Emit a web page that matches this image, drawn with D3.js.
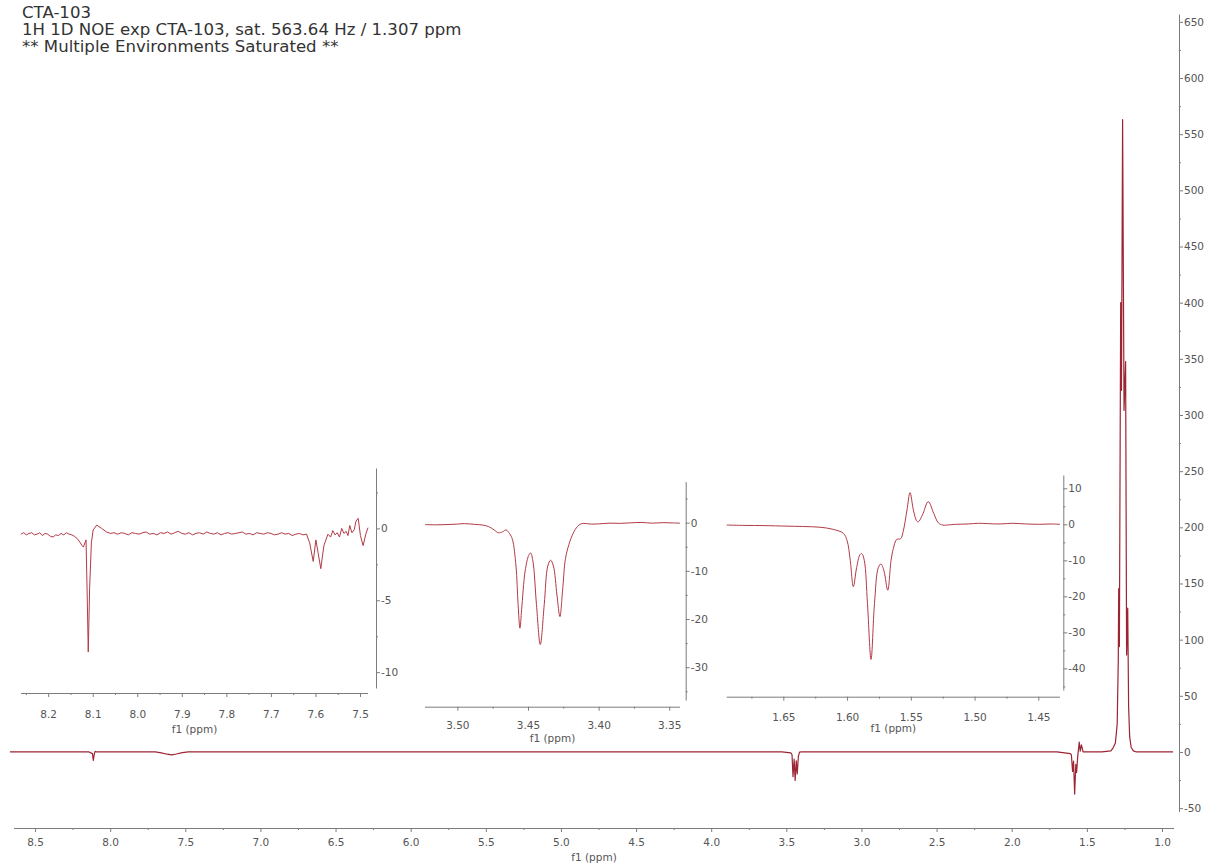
<!DOCTYPE html>
<html>
<head>
<meta charset="utf-8">
<script src="https://cdn.jsdelivr.net/npm/d3@7/dist/d3.min.js"></script>
<style>
  html, body { margin: 0; padding: 0; background: #fff; }
  svg { display: block; }
  text { font-family: "DejaVu Sans", Verdana, sans-serif; }
</style>
</head>
<body>
<svg id="chart" width="1215" height="865"></svg>
<script>
// ---- Header text ----
const titleLines = [
  "CTA-103",
  "1H 1D NOE exp CTA-103, sat. 563.64 Hz / 1.307 ppm",
  "** Multiple Environments Saturated **"
];

// ---- Full spectrum (ppm, intensity) ----
const mainPpm = [8.667, 8.14, 8.118, 8.112, 8.106, 8.10, 8.09,
  7.70, 7.66, 7.62, 7.59, 7.56, 7.52, 7.48,
  3.53, 3.47, 3.462, 3.4557, 3.4481, 3.4413, 3.434, 3.4274, 3.42, 3.412, 3.40,
  1.70, 1.61, 1.603, 1.5951, 1.5885, 1.5812, 1.5734, 1.5681, 1.561, 1.5506, 1.5441, 1.5363, 1.525,
  1.40, 1.34, 1.326, 1.31, 1.298, 1.291, 1.288, 1.2835, 1.2748, 1.2695, 1.262, 1.2525, 1.242,
  1.2355, 1.228, 1.222, 1.215, 1.205, 1.19, 1.17, 0.926];
const mainVal = [0, 0, -1.5, -7.5, -2, 0.5, 0,
  0, -0.8, -2, -2.6, -1.8, -0.6, 0,
  0, -0.8, -2.5, -22, -6.3, -25.3, -7.8, -19.5, -4, -0.2, 0,
  0, -1.4, -2.5, -17.3, -8.1, -37.5, -11, -18.3, -4.2, 8.8, 0.7, 6.3, 0,
  0, 1, 3.5, 8, 25, 80, 145.5, 93.8, 400, 322, 563, 304, 347.5,
  86.4, 128, 40, 13.6, 4, 1, 0, 0];
const mainXTicks = [8.5, 8.0, 7.5, 7.0, 6.5, 6.0, 5.5, 5.0, 4.5, 4.0, 3.5, 3.0, 2.5, 2.0, 1.5, 1.0];
const mainXMinor = [8.25, 7.75, 7.25, 6.75, 6.25, 5.75, 5.25, 4.75, 4.25, 3.75, 3.25, 2.75, 2.25, 1.75, 1.25];
const mainYTicks = [-50, 0, 50, 100, 150, 200, 250, 300, 350, 400, 450, 500, 550, 600, 650];
const mainYMinor = [-25, 25, 75, 125, 175, 225, 275, 325, 375, 425, 475, 525, 575, 625];

// ---- Inset 1: aromatic region 8.26 - 7.48 ppm ----
const in1Ppm = [8.261, 8.255, 8.249, 8.243, 8.237, 8.231, 8.225, 8.219, 8.213, 8.207, 8.201, 8.195,
  8.189, 8.183, 8.177, 8.171, 8.165, 8.159, 8.153, 8.147, 8.141, 8.135, 8.129, 8.124, 8.121, 8.115,
  8.1125, 8.110, 8.107, 8.103, 8.099, 8.091, 8.080, 8.069, 8.060, 8.052, 8.044, 8.036, 8.028, 8.020,
  8.012, 8.004, 7.996, 7.988, 7.980, 7.972, 7.964, 7.956, 7.948, 7.940, 7.932, 7.924, 7.916, 7.908,
  7.900, 7.892, 7.884, 7.876, 7.868, 7.860, 7.852, 7.844, 7.836, 7.828, 7.820, 7.812, 7.804, 7.796,
  7.788, 7.780, 7.772, 7.764, 7.756, 7.748, 7.740, 7.732, 7.724, 7.716, 7.708, 7.700, 7.692, 7.684,
  7.676, 7.668, 7.660, 7.652, 7.644, 7.636, 7.628, 7.620, 7.613, 7.605, 7.599, 7.594, 7.588, 7.581,
  7.572, 7.566, 7.561, 7.556, 7.551, 7.546, 7.541, 7.536, 7.531, 7.527, 7.523, 7.518, 7.513, 7.509,
  7.504, 7.499, 7.493, 7.487, 7.482];
const in1Val = [-0.4, -0.3, -0.45, -0.35, -0.3, -0.45, -0.4, -0.3, -0.5, -0.35, -0.4, -0.55,
  -0.6, -0.45, -0.5, -0.35, -0.45, -0.3, -0.4, -0.45, -0.55, -0.7, -0.95, -1.2, -1.3, -0.8,
  -4.5, -8.6, -4.2, -1.0, -0.12, 0.23, 0.0, -0.25, -0.35, -0.3, -0.4, -0.3, -0.35, -0.45,
  -0.3, -0.35, -0.4, -0.3, -0.25, -0.4, -0.35, -0.45, -0.3, -0.35, -0.25, -0.4, -0.3, -0.2,
  -0.35, -0.4, -0.3, -0.45, -0.35, -0.3, -0.4, -0.25, -0.35, -0.4, -0.3, -0.45, -0.35, -0.3,
  -0.4, -0.35, -0.3, -0.25, -0.4, -0.35, -0.45, -0.3, -0.35, -0.4, -0.3, -0.35, -0.45, -0.4,
  -0.3, -0.4, -0.35, -0.5, -0.4, -0.35, -0.45, -0.4, -1.0, -2.3, -0.8, -1.7, -2.8, -1.2,
  -0.4, -0.6, -0.15, -0.45, -0.3, -0.6, 0.0, -0.35, -0.2, -0.5, 0.2, -0.3, -0.1, 0.5,
  0.7, -0.5, -1.2, -0.4, 0.05];
const in1XTicks = [8.2, 8.1, 8.0, 7.9, 7.8, 7.7, 7.6, 7.5];
const in1XMinor = [8.25, 8.15, 8.05, 7.95, 7.85, 7.75, 7.65, 7.55];
const in1YTicks = [0, -5, -10];
const in1YMinor = [2.5, -2.5, -7.5];

// ---- Inset 2: multiplet near 3.44 ppm ----
const in2Ppm = [3.5229, 3.515, 3.508, 3.500, 3.495, 3.488, 3.482, 3.478, 3.474, 3.471, 3.468, 3.4655,
  3.463, 3.461, 3.4585, 3.457, 3.4557, 3.4545, 3.452, 3.4495, 3.4481, 3.4465, 3.444, 3.4413, 3.4385,
  3.436, 3.434, 3.432, 3.4295, 3.4274, 3.4255, 3.4235, 3.421, 3.418, 3.415, 3.412, 3.405, 3.400,
  3.392, 3.385, 3.378, 3.370, 3.362, 3.355, 3.348, 3.3424];
const in2Val = [-0.4, -0.45, -0.4, -0.3, -0.2, -0.35, -0.5, -0.8, -1.5, -2.1, -1.9, -1.5,
  -2.3, -3.5, -9, -17, -21.9, -18, -10, -6.8, -6.3, -8, -17, -25.3, -17,
  -9, -7.8, -9, -15, -19.5, -14, -7.5, -4.5, -2.2, -0.8, -0.2, -0.3, -0.25,
  -0.1, -0.15, -0.05, 0.05, -0.1, 0.0, -0.05, -0.1];
const in2XTicks = [3.50, 3.45, 3.40, 3.35];
const in2XMinor = [3.475, 3.425, 3.375];
const in2YTicks = [0, -10, -20, -30];
const in2YMinor = [5, -5, -15, -25, -35];

// ---- Inset 3: multiplet near 1.58 ppm ----
const in3Ppm = [1.6944, 1.680, 1.665, 1.6473, 1.635, 1.6212, 1.6108, 1.6029, 1.600, 1.5975, 1.5951,
  1.5925, 1.590, 1.5885, 1.5865, 1.584, 1.5812, 1.5785, 1.5755, 1.5734, 1.571, 1.5681, 1.5655,
  1.5637, 1.5611, 1.558, 1.556, 1.553, 1.5506, 1.548, 1.5455, 1.5441, 1.541, 1.5363, 1.532,
  1.5284, 1.525, 1.5219, 1.515, 1.505, 1.497, 1.49, 1.48, 1.47, 1.46, 1.45, 1.44, 1.433];
const in3Val = [-0.2, -0.3, -0.35, -0.5, -0.6, -0.8, -1.4, -2.5, -4.5, -10, -17.3,
  -12, -8.5, -8.1, -10, -22, -37.5, -22, -12, -11, -13, -18.3, -10,
  -6.7, -4.2, -4.0, -2, 4, 8.8, 4, 1, 0.7, 2.5, 6.3, 3,
  0.4, -0.2, -0.2, 0.0, 0.1, 0.3, 0.2, 0.1, 0.3, 0.1, 0.0, 0.1, 0.0];
const in3XTicks = [1.65, 1.60, 1.55, 1.50, 1.45];
const in3XMinor = [1.675, 1.625, 1.575, 1.525, 1.475];
const in3YTicks = [10, 0, -10, -20, -30, -40];
const in3YMinor = [5, -5, -15, -25, -35, -45];

// ---- Styling ----
const traceColor = "#9c2533";
const insetColor = "#b23a47";
const axisColor = "#7c7c7c";
const labelColor = "#555";
const tickFont = 10.5;

const svg = d3.select("#chart");
svg.append("rect").attr("width", 1215).attr("height", 865).attr("fill", "#fff");

const fmtInt = v => (v < 0 ? "-" : "") + Math.abs(v).toString();

// Header lines, sized so the second line spans its full width
const head = svg.append("g").attr("fill", "#333");
const probe = head.append("text").attr("font-size", 20).text(titleLines[1]);
const headSize = 20 * 440 / probe.node().getComputedTextLength();
probe.remove();
titleLines.forEach((t, i) => {
  head.append("text").attr("x", 22).attr("y", 18 + i * 17)
    .attr("font-size", headSize).text(t);
});

function styleAxis(g) {
  g.select(".domain").attr("stroke", axisColor);
  g.selectAll(".tick line").attr("stroke", axisColor);
  g.selectAll(".tick text").attr("fill", labelColor).attr("font-size", tickFont)
    .attr("font-family", "\"DejaVu Sans\", Verdana, sans-serif");
}

// Draws one panel: trace plus bottom ppm axis and right intensity axis
function panel(cfg) {
  const x = d3.scaleLinear().domain(cfg.xDomain).range(cfg.xRange);
  const y = d3.scaleLinear().domain(cfg.yDomain).range(cfg.yRange);
  const g = svg.append("g");

  const pts = d3.zip(cfg.ppm, cfg.val);
  g.append("path").datum(pts)
    .attr("fill", "none").attr("stroke", cfg.color).attr("stroke-width", cfg.width)
    .attr("stroke-linejoin", "round")
    .attr("d", d3.line().x(d => x(d[0])).y(d => y(d[1])).curve(cfg.curve));

  // bottom axis
  const gx = g.append("g").attr("transform", `translate(0,${cfg.xAxisY})`);
  gx.call(d3.axisBottom(x).tickValues(cfg.xTicks).tickFormat(d3.format(cfg.xFmt))
    .tickSize(4).tickSizeOuter(0).tickPadding(cfg.xPad));
  styleAxis(gx);
  gx.select(".domain").attr("d", `M${cfg.xRange[0]},0.5H${cfg.xRange[1]}`);
  const gxm = g.append("g").attr("transform", `translate(0,${cfg.xAxisY})`);
  gxm.call(d3.axisBottom(x).tickValues(cfg.xMinor).tickFormat("").tickSize(2).tickSizeOuter(0));
  gxm.select(".domain").remove();
  styleAxis(gxm);

  // right axis
  const gy = g.append("g").attr("transform", `translate(${cfg.yAxisX},0)`);
  gy.call(d3.axisRight(y).tickValues(cfg.yTicks).tickFormat(fmtInt)
    .tickSize(4).tickSizeOuter(0).tickPadding(1));
  styleAxis(gy);
  const gym = g.append("g").attr("transform", `translate(${cfg.yAxisX},0)`);
  gym.call(d3.axisRight(y).tickValues(cfg.yMinor).tickFormat("").tickSize(2).tickSizeOuter(0));
  gym.select(".domain").remove();
  styleAxis(gym);

  // axis title
  g.append("text").attr("x", (cfg.xRange[0] + cfg.xRange[1]) / 2).attr("y", cfg.titleY)
    .attr("text-anchor", "middle").attr("fill", labelColor).attr("font-size", tickFont)
    .text("f1 (ppm)");
}

// Insets
panel({ ppm: in1Ppm, val: in1Val, xDomain: [8.261, 7.482], xRange: [21, 368],
  yDomain: [4.2, -11.1], yRange: [468, 688], xAxisY: 693, yAxisX: 376,
  xTicks: in1XTicks, xMinor: in1XMinor, yTicks: in1YTicks, yMinor: in1YMinor,
  xFmt: ".1f", xPad: 14, titleY: 733, color: insetColor, width: 1, curve: d3.curveLinear });

panel({ ppm: in2Ppm, val: in2Val, xDomain: [3.5229, 3.3424], xRange: [425, 680],
  yDomain: [8.5, -36.8], yRange: [481.7, 700], xAxisY: 706.7, yAxisX: 685.7,
  xTicks: in2XTicks, xMinor: in2XMinor, yTicks: in2YTicks, yMinor: in2YMinor,
  xFmt: ".2f", xPad: 11, titleY: 742, color: insetColor, width: 1, curve: d3.curveCatmullRom.alpha(0.5) });

panel({ ppm: in3Ppm, val: in3Val, xDomain: [1.6944, 1.433], xRange: [726.7, 1060],
  yDomain: [13.7, -46.0], yRange: [475, 690], xAxisY: 696.7, yAxisX: 1063.3,
  xTicks: in3XTicks, xMinor: in3XMinor, yTicks: in3YTicks, yMinor: in3YMinor,
  xFmt: ".2f", xPad: 13, titleY: 732, color: insetColor, width: 1, curve: d3.curveCatmullRom.alpha(0.5) });

// Full spectrum
panel({ ppm: mainPpm, val: mainVal, xDomain: [8.64, 0.92], xRange: [14, 1174],
  yDomain: [-53, 657], yRange: [811.5, 14], xAxisY: 828, yAxisX: 1179,
  xTicks: mainXTicks, xMinor: mainXMinor, yTicks: mainYTicks, yMinor: mainYMinor,
  xFmt: ".1f", xPad: 7, titleY: 861, color: traceColor, width: 1.2, curve: d3.curveLinear });
</script>
</body>
</html>
